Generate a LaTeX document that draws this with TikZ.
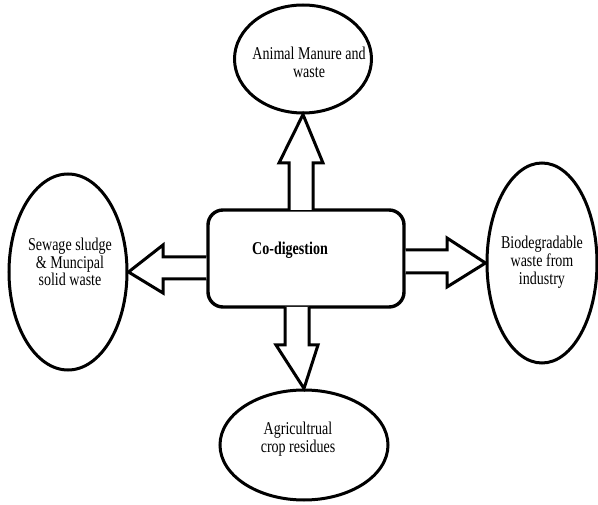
\documentclass[tikz,border=0pt]{standalone}
\usepackage{fontspec}
\setmainfont{Liberation Serif}[FakeStretch=0.78]
\usetikzlibrary{shapes.geometric,calc}
\begin{document}
\begin{tikzpicture}[x=1pt,y=-1pt,
  oval/.style={draw,ellipse,line width=3pt,inner sep=0pt},
  lbl/.style={align=center,inner sep=0pt,font=\fontsize{18}{17.8}\selectfont},
  barrow/.style={draw,line width=3pt,line join=miter,fill=white},
  mainbox/.style={draw,rectangle,rounded corners=15pt,line width=3.4pt,inner sep=0pt,minimum width=196pt,minimum height=97pt}]
\useasboundingbox (0,0) rectangle (598,505);
% nodes
\node[mainbox] (box) at (306,258.5) {};
\node[lbl,font=\bfseries\fontsize{18}{17.8}\selectfont] (boxtxt) at (290,250) {Co-digestion};
\node[oval,minimum width=137pt,minimum height=108pt] (top) at (303,59) {};
\node[lbl] (toptxt) at (309,62) {Animal Manure and\\waste};
\node[oval,minimum width=118pt,minimum height=196pt] (left) at (68,272) {};
\node[lbl] (lefttxt) at (70,262) {Sewage sludge\\\& Muncipal\\solid waste};
\node[oval,minimum width=110pt,minimum height=200pt] (right) at (542,263) {};
\node[lbl] (righttxt) at (542,262) {Biodegradable\\waste from\\industry};
\node[oval,minimum width=168pt,minimum height=110pt] (bottom) at (304,445) {};
\node[lbl] (bottomtxt) at (298,439) {Agricultrual\\crop residues};
% block arrows
\draw[barrow] (289,210) -- (289,163) -- (279,163) -- (top.south) -- (323,163) -- (313,163) -- (313,210);
\draw[barrow] (box.west |- 0,257) -- (163,257) -- (163,245) -- (left.east) -- (163,293) -- (163,279) -- (box.west |- 0,279);
\draw[barrow] (box.east |- 0,250) -- (447,250) -- (447,238) -- (right.west) -- (447,287) -- (447,273) -- (box.east |- 0,273);
\draw[barrow] (285,307) -- (285,345) -- (276,345) -- (bottom.north) -- (318,345) -- (309,345) -- (309,307);
\end{tikzpicture}
\end{document}
